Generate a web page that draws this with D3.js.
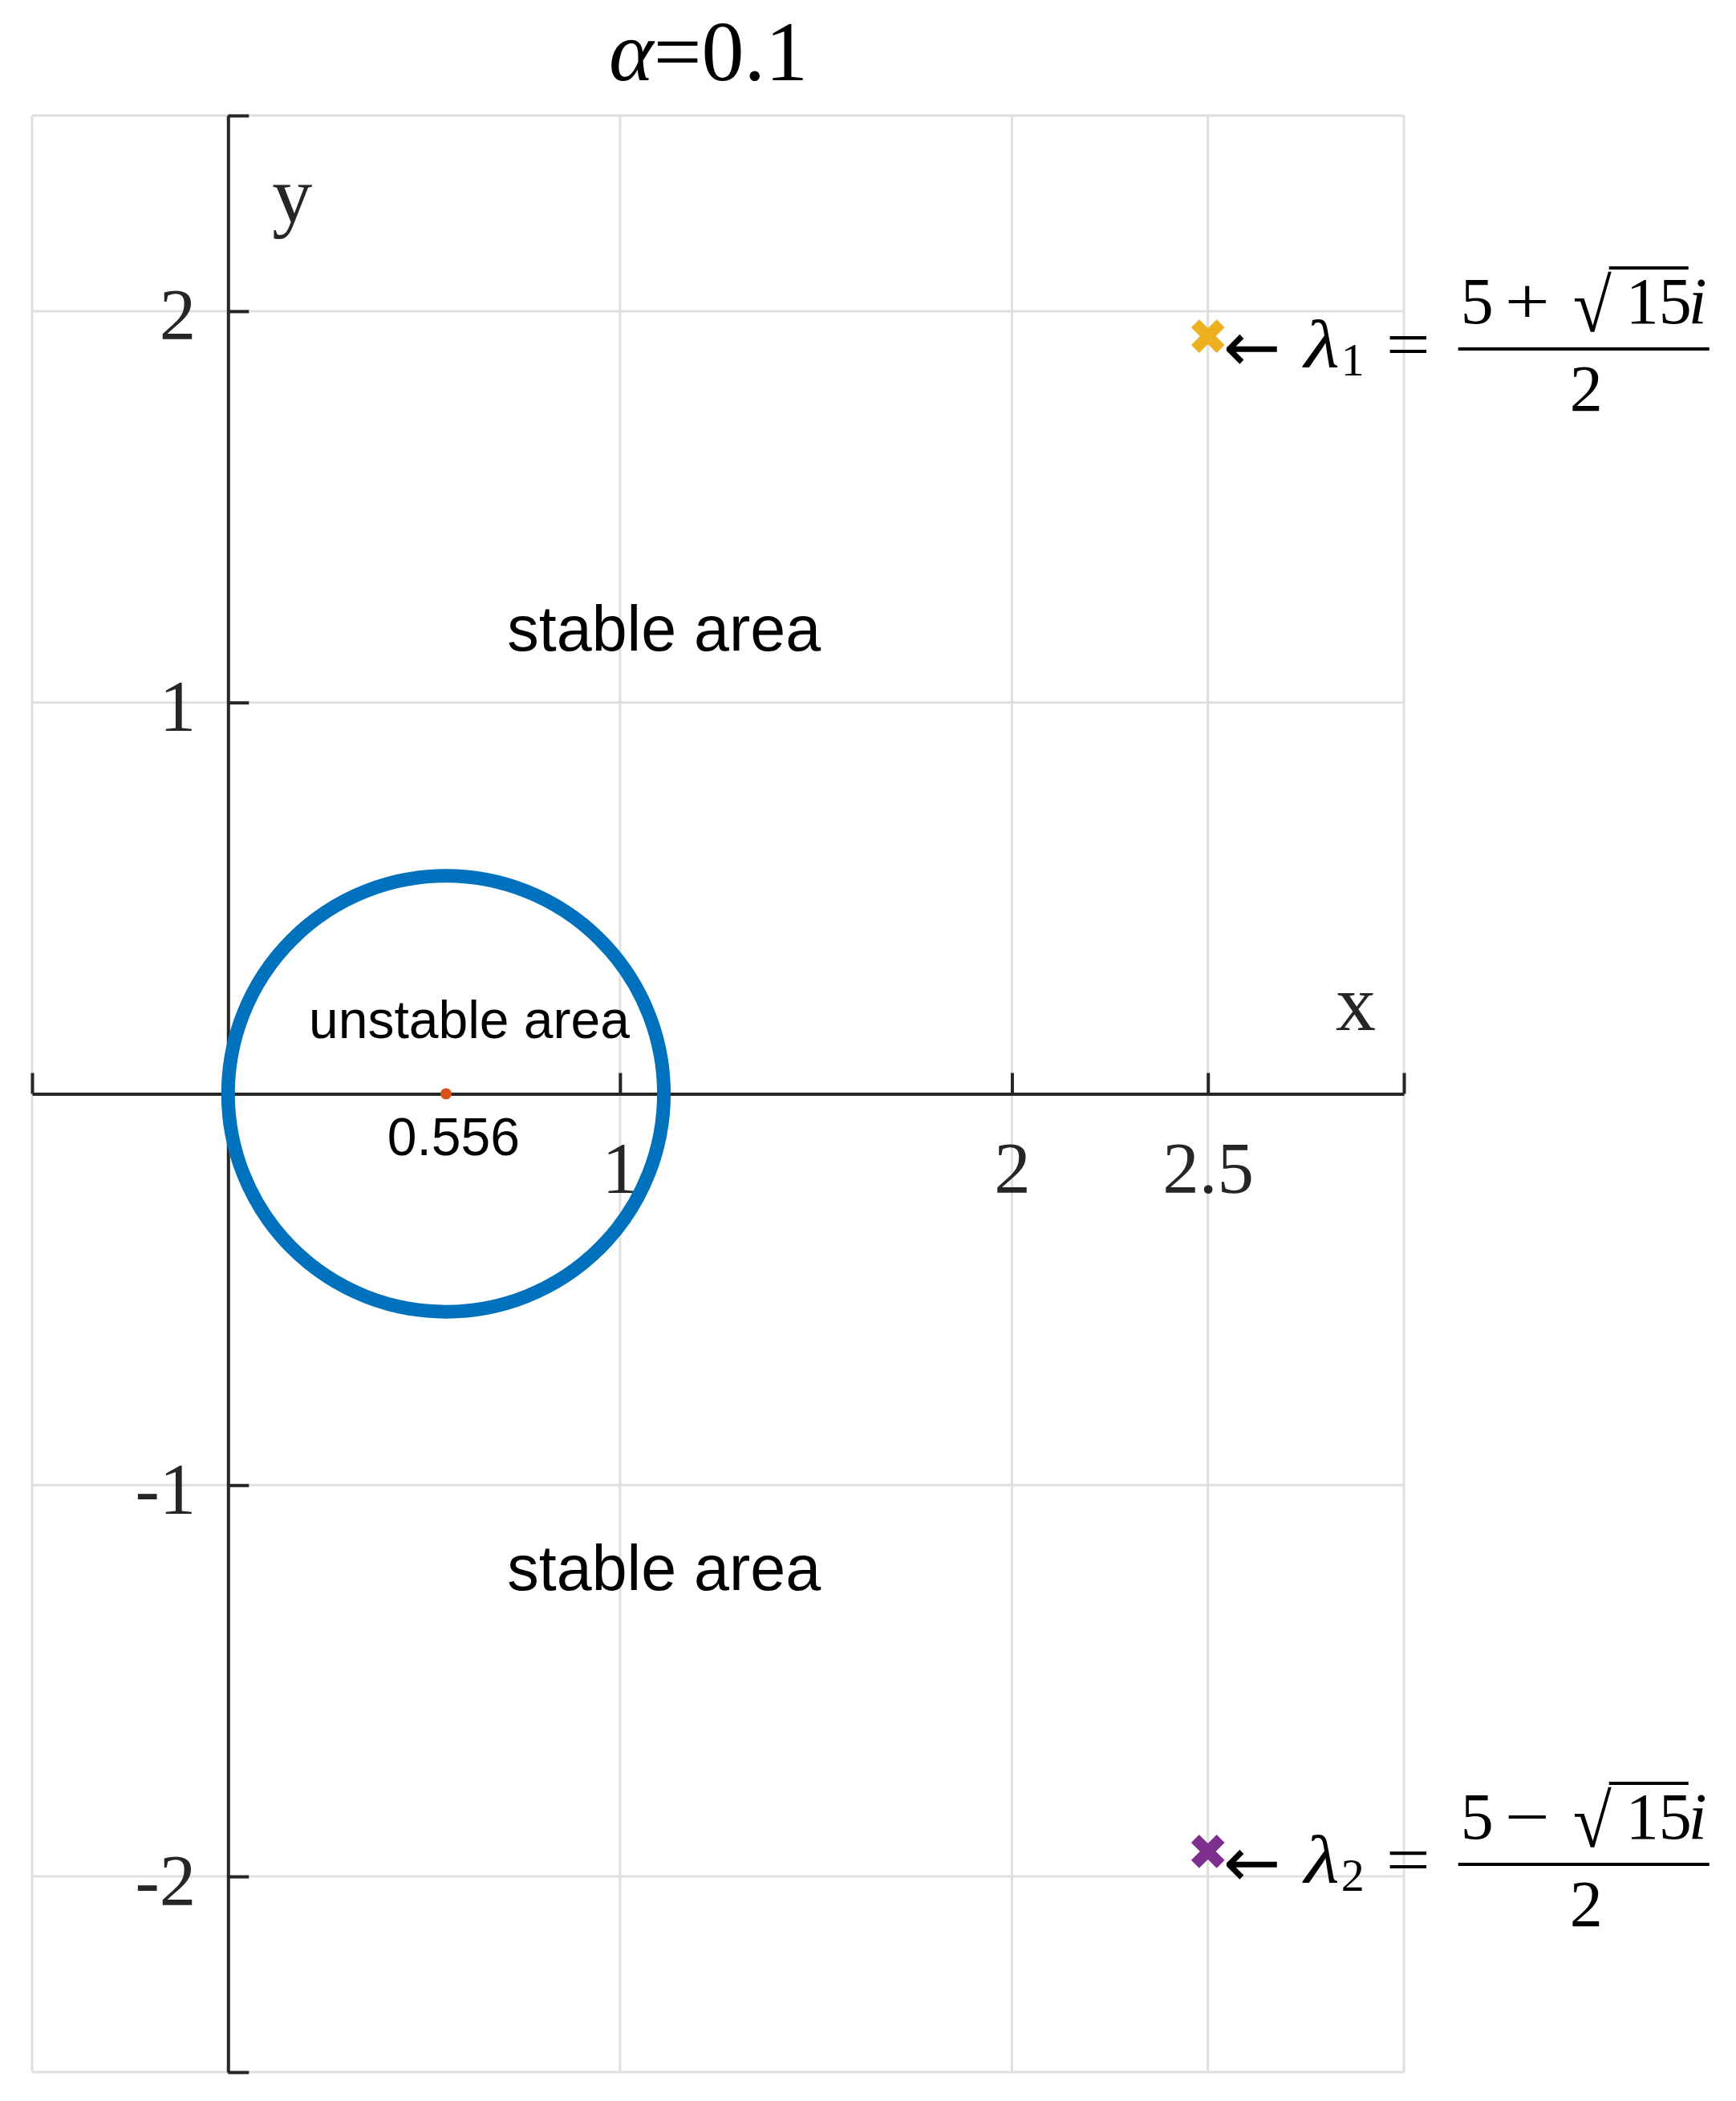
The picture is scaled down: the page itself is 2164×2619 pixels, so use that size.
<!DOCTYPE html>
<html>
<head>
<meta charset="utf-8">
<script src="https://cdn.jsdelivr.net/npm/d3@7"></script>
<style>
  html, body { margin: 0; padding: 0; background: #fff; }
  svg { display: block; }
</style>
</head>
<body>
<svg id="chart"></svg>
<script>
const width = 2164
const height = 2619

// axis limits and ticks
const xDomain = [-0.5, 3]
const yDomain = [-2.5, 2.5]
const xTicks = [-0.5, 0, 1, 2, 2.5, 3]
const xTickLabels = ['', '', '1', '2', '2.5', '']
const yTicks = [-2.5, -2, -1, 0, 1, 2, 2.5]
const yTickLabels = ['', '-2', '-1', '', '1', '2', '']
const xGrid = [-0.5, 1, 2, 2.5, 3]
const yGrid = [-2.5, -2, -1, 1, 2, 2.5]

// boundary circle of the unstable region
const circleCenter = [0.556, 0]
const circleRadius = 0.556

// eigenvalues
const eigX = [2.5, 2.5]
const eigY = [1.936, -1.936]
const eigColor = ['#EDB120', '#7E2F8E']
const eigSub = ['1', '2']
const eigSign = ['+', '\u2212']

// text labels [x, y, text]
const bigLabels = [[0.7, 1.2, 'stable area'], [0.7, -1.2, 'stable area']]
const smallLabels = [[0.2, 0.2, 'unstable area'], [0.4, -0.1, '0.556']]

const serif = "'Liberation Serif', 'Times New Roman', serif"
const sans = "'Liberation Sans', Arial, sans-serif"
const axisColor = '#262626'
const gridColor = '#dfdfdf'

const margin = { left: 40, right: 414, top: 144, bottom: 36 }

const x = d3.scaleLinear().domain(xDomain).range([margin.left, width - margin.right])
const y = d3.scaleLinear().domain(yDomain).range([height - margin.bottom, margin.top])

const svg = d3.select('#chart')
  .attr('width', width)
  .attr('height', height)
  .attr('viewBox', `0 0 ${width} ${height}`)

svg.append('rect').attr('width', width).attr('height', height).attr('fill', '#fff')

// grid
const grid = svg.append('g').attr('stroke', gridColor).attr('stroke-width', 3)
grid.selectAll('.gx').data(xGrid).enter().append('line')
  .attr('x1', d => x(d)).attr('x2', d => x(d))
  .attr('y1', y(yDomain[0])).attr('y2', y(yDomain[1]))
grid.selectAll('.gy').data(yGrid).enter().append('line')
  .attr('y1', d => y(d)).attr('y2', d => y(d))
  .attr('x1', x(xDomain[0])).attr('x2', x(xDomain[1]))

// axes through the origin
const xAxis = svg.append('g')
  .attr('transform', `translate(0,${y(0)})`)
  .call(d3.axisBottom(x)
    .tickValues(xTicks)
    .tickSizeInner(-26)
    .tickSizeOuter(0)
    .tickFormat((d, i) => xTickLabels[i]))

const yAxis = svg.append('g')
  .attr('transform', `translate(${x(0)},0)`)
  .call(d3.axisLeft(y)
    .tickValues(yTicks)
    .tickSizeInner(-26)
    .tickSizeOuter(0)
    .tickPadding(40)
    .tickFormat((d, i) => yTickLabels[i]))

;[xAxis, yAxis].forEach(g => {
  g.attr('font-family', serif).attr('font-size', 91)
  g.select('.domain').attr('stroke', axisColor).attr('stroke-width', 4)
  g.selectAll('.tick line').attr('stroke', axisColor).attr('stroke-width', 4)
  g.selectAll('.tick text').attr('fill', axisColor)
})
xAxis.selectAll('.tick text').attr('y', 123).attr('dy', 0)
yAxis.selectAll('.tick text').attr('y', 35).attr('dy', 0)

// axis labels
svg.append('text')
  .attr('x', x(0) + 55).attr('y', y(yDomain[1]) + 133)
  .attr('font-family', serif).attr('font-size', 100).attr('fill', axisColor)
  .text('y')
svg.append('text')
  .attr('x', x(xDomain[1]) - 85).attr('y', y(0) - 80)
  .attr('font-family', serif).attr('font-size', 100).attr('fill', axisColor)
  .text('x')

// title
const title = svg.append('text')
  .attr('x', (x(xDomain[0]) + x(xDomain[1])) / 2 - 12)
  .attr('y', 100)
  .attr('text-anchor', 'middle')
  .attr('font-family', serif).attr('font-size', 106).attr('fill', '#000')
title.append('tspan').attr('font-style', 'italic').text('\u03b1')
title.append('tspan').text('=0.1')

// circle
svg.append('circle')
  .attr('cx', x(circleCenter[0]))
  .attr('cy', y(circleCenter[1]))
  .attr('r', x(circleRadius) - x(0))
  .attr('fill', 'none')
  .attr('stroke', '#0072BD')
  .attr('stroke-width', 17)

svg.append('circle')
  .attr('cx', x(circleCenter[0]))
  .attr('cy', y(circleCenter[1]))
  .attr('r', 7)
  .attr('fill', '#D95319')

// region labels
svg.selectAll('.big').data(bigLabels).enter().append('text')
  .attr('x', d => x(d[0]) + 6).attr('y', d => y(d[1]))
  .attr('dy', '0.42em')
  .attr('font-family', sans).attr('font-size', 79).attr('fill', '#000')
  .text(d => d[2])
svg.selectAll('.small').data(smallLabels).enter().append('text')
  .attr('x', d => x(d[0]) + 3).attr('y', d => y(d[1]))
  .attr('dy', '0.42em')
  .attr('font-family', sans).attr('font-size', 66).attr('fill', '#000')
  .text(d => d[2])

// eigenvalue markers
const eig = eigX.map((v, i) => ({ x: v, y: eigY[i], color: eigColor[i], sub: eigSub[i], sign: eigSign[i] }))

svg.selectAll('.eig').data(eig).enter().append('path')
  .attr('transform', d => `translate(${x(d.x)},${y(d.y)})`)
  .attr('d', d3.symbol(d3.symbolX, 660))
  .attr('fill', 'none')
  .attr('stroke', d => d.color)
  .attr('stroke-width', 14)

// annotations: "<- lambda_k = (5 +/- sqrt(15) i) / 2"
function addText (g, str, px, py, size, opts = {}) {
  const t = g.append('text')
    .attr('x', px).attr('y', py)
    .attr('font-family', opts.family || serif).attr('font-size', size).attr('fill', '#000')
    .text(str)
  if (opts.italic) t.attr('font-style', 'italic')
  if (opts.len) t.attr('textLength', opts.len).attr('lengthAdjust', 'spacingAndGlyphs')
  return t
}

eig.forEach(d => {
  const g = svg.append('g').attr('transform', `translate(${x(d.x)},${y(d.y)})`)
  const ax = 16
  addText(g, '\u2190', 19, ax + 27, 86, { len: 72, family: "'DejaVu Sans', sans-serif" })
  addText(g, '\u03bb', 120, ax + 22, 84, { italic: true, len: 44 })
  addText(g, d.sub, 166, ax + 33, 58)
  addText(g, '=', 222, ax + 22, 82, { len: 55 })
  g.append('line')
    .attr('x1', 312).attr('x2', 625).attr('y1', ax).attr('y2', ax)
    .attr('stroke', '#000').attr('stroke-width', 4)
  addText(g, '5', 315, ax - 32, 82)
  addText(g, d.sign, 370, ax - 32, 82, { len: 56 })
  addText(g, '\u221a', 455, ax - 22, 94, { len: 48 })
  g.append('line')
    .attr('x1', 500).attr('x2', 599).attr('y1', -85).attr('y2', -85)
    .attr('stroke', '#000').attr('stroke-width', 4)
  addText(g, '15', 521, ax - 32, 82)
  addText(g, 'i', 599, ax - 32, 82, { italic: true })
  addText(g, '2', 451, ax + 77, 82)
})
</script>
</body>
</html>
